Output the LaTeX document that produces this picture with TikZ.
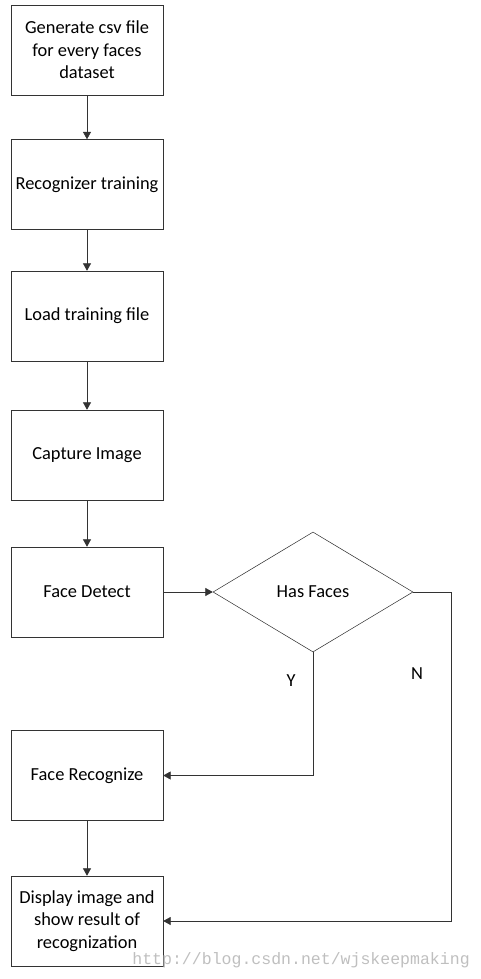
\documentclass[tikz,border=0pt]{standalone}
\usepackage{fontspec}
\setmainfont{Carlito}
\newfontfamily\urlfont{Liberation Mono}
\usetikzlibrary{shapes.geometric}
\usetikzlibrary{arrows.meta}

\begin{document}
\begin{tikzpicture}[x=0.75pt,y=-0.75pt,
  every node/.style={font=\fontsize{13.8pt}{17pt}\selectfont},
  block/.style={draw=black!80,rectangle,minimum width=114pt,minimum height=67.5pt,align=center,inner sep=1pt},
  decision/.style={draw=black!80,diamond,minimum width=150pt,minimum height=90pt,inner sep=0pt},
  flow/.style={draw=black!80,-{Triangle[width=6pt,length=5.5pt]}}]
  \useasboundingbox (0,0) rectangle (480,979);

  \node[block] (csv)   at (87,50)    {Generate csv file\\for every faces\\dataset};
  \node[block] (train) at (87,184.5) {Recognizer training};
  \node[block] (load)  at (87,316)   {Load training file};
  \node[block] (cap)   at (87,455)   {Capture Image};
  \node[block] (det)   at (87,592)   {Face Detect};
  \node[decision] (has) at (313,592) {Has Faces};
  \node[block] (rec)   at (87,775.5) {Face Recognize};
  \node[block] (disp)  at (87,921)   {Display image and\\show result of\\recognization};
  \coordinate (turn) at (451,592);

  \draw[flow] (csv) -- (train);
  \draw[flow] (train) -- (load);
  \draw[flow] (load) -- (cap);
  \draw[flow] (cap) -- (det);
  \draw[flow] (det) -- (has);
  \draw[flow] (has.south) |- (rec.east);
  \draw[flow] (has.east) -- (turn) |- (disp.east);
  \draw[flow] (rec) -- (disp);

  \node[inner sep=0pt] (yes) at (291,681) {Y};
  \node[inner sep=0pt] (no)  at (417,674) {N};
  \node[inner sep=0pt,text=black!25,font=\urlfont\fontsize{12.4pt}{14pt}\selectfont,anchor=east] (wm) at (470,960) {http://blog.csdn.net/wjskeepmaking};
\end{tikzpicture}
\end{document}
